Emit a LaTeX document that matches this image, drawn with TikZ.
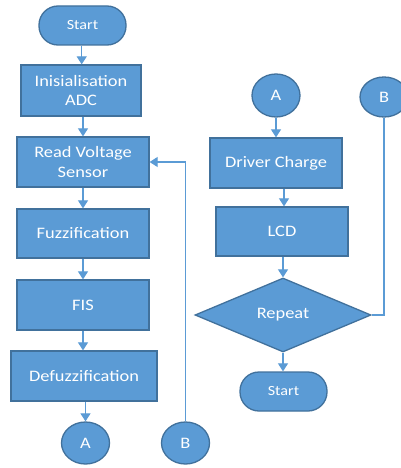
\documentclass[tikz,border=0pt]{standalone}
\usepackage{fontspec}
\setmainfont{Carlito}[FakeStretch=1.15]
\usetikzlibrary{shapes.geometric,arrows.meta}
\definecolor{boxfill}{HTML}{5B9BD5}
\definecolor{boxline}{HTML}{41719C}
\definecolor{arrcol}{HTML}{5B9BD5}
\begin{document}
\begin{tikzpicture}[x=1pt,y=-1pt,
  base/.style={fill=boxfill,draw=boxline,line width=1.3pt,text=white,inner sep=0pt,align=center,font=\fontsize{16}{19.5}\selectfont},
  procbox/.style={base,rectangle},
  termbox/.style={base,rectangle,rounded corners=19pt,minimum width=87pt,minimum height=39pt,font=\fontsize{14}{17}\selectfont},
  conn/.style={base,ellipse},
  decbox/.style={base,diamond,minimum width=176pt,minimum height=74pt},
  arr/.style={draw=arrcol,line width=1.2pt,-{Triangle[width=10pt,length=8pt]}},
  plainline/.style={draw=arrcol,line width=1.2pt}]
\useasboundingbox (0,0) rectangle (401,468);
\fill[white] (0,0) rectangle (401,468);
% left column
\node[termbox] (s1) at (82.5,25.5) {Start};
\node[procbox,minimum width=120pt,minimum height=51pt] (init) at (81,90.5) {Inisialisation\\ADC};
\node[procbox,minimum width=132pt,minimum height=50pt] (read) at (83,162) {Read Voltage\\Sensor};
\node[procbox,minimum width=132pt,minimum height=49pt] (fuzz) at (83,233.5) {Fuzzification};
\node[procbox,minimum width=132pt,minimum height=50pt] (fis) at (83,305) {FIS};
\node[procbox,minimum width=146pt,minimum height=50pt] (defuzz) at (84,376) {Defuzzification};
\node[conn,minimum width=48pt,minimum height=42pt] (a1) at (85.5,443) {A};
\node[conn,minimum width=48pt,minimum height=42pt] (b1) at (185.5,443) {B};
% right column
\node[conn,minimum width=48pt,minimum height=43pt] (a2) at (276,95.5) {A};
\node[conn,minimum width=48pt,minimum height=40pt] (b2) at (384,97) {B};
\node[procbox,minimum width=132pt,minimum height=50pt] (drv) at (276,163) {Driver Charge};
\node[procbox,minimum width=132pt,minimum height=49pt] (lcd) at (282,231.5) {LCD};
\node[decbox] (rep) at (283,315) {Repeat};
\node[termbox] (s2) at (283.5,391.5) {Start};
% connectors left
\draw[arr] (s1.south -| 81.7,0) -- (init.north -| 81.7,0);
\draw[arr] (init.south -| read.north) -- (read.north);
\draw[arr] (read) -- (fuzz);
\draw[arr] (fuzz) -- (fis);
\draw[arr] (fis.south) -- (fis.south |- defuzz.north);
\draw[arr] (defuzz.south -| a1.north) -- (a1.north);
\draw[arr] (b1.north) |- (read.east);
% connectors right
\draw[arr] (a2) -- (drv);
\draw[arr] (drv.south -| 284,0) -- (lcd.north -| 284,0);
\draw[arr] (lcd.south -| rep.north) -- (rep.north);
\draw[arr] (rep.south) -- (rep.south |- s2.north);
\draw[plainline] (b2.south) |- (rep.east);
\end{tikzpicture}
\end{document}
